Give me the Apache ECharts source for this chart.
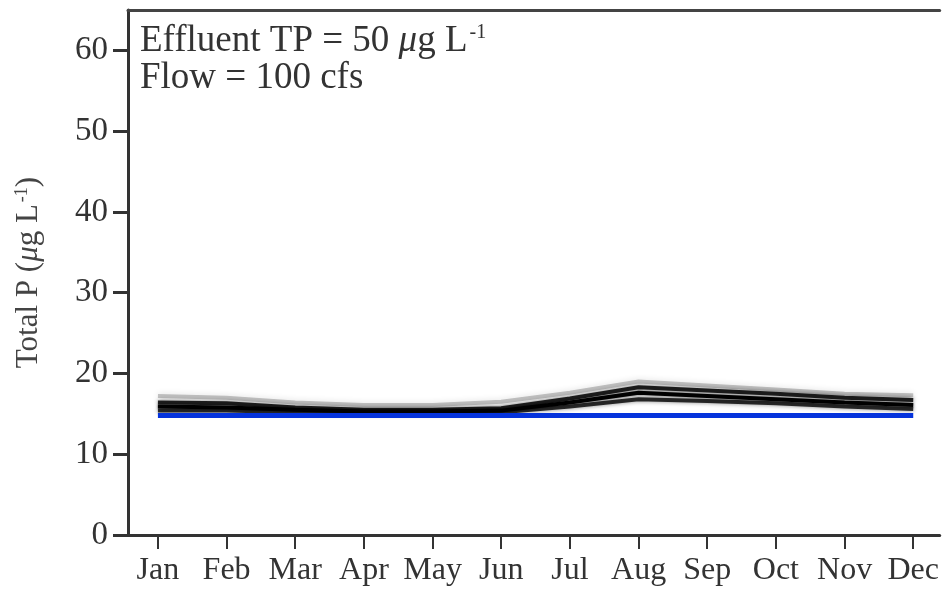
<!DOCTYPE html>
<html lang="en">
<head>
    <meta charset="UTF-8">
    <title>Total P</title>
    <script src="https://cdn.jsdelivr.net/npm/echarts@6.0.0/dist/echarts.min.js"></script>
    <style>
        html, body { margin: 0; padding: 0; background: #fff; }
        #chart { width: 942px; height: 591px; }
    </style>
</head>
<body>
    <div id="chart"></div>
    <script>
        // data
        const months = ["Jan", "Feb", "Mar", "Apr", "May", "Jun", "Jul", "Aug", "Sep", "Oct", "Nov", "Dec"];
        const monthPos = [1, 2, 3, 4, 5, 6, 7, 8, 9, 10, 11, 12];
        const yTicks = [0, 10, 20, 30, 40, 50, 60];

        // ensemble of runs (black / grey band)
        const runUpper = [17.2, 17.0, 16.4, 16.1, 16.1, 16.5, 17.6, 19.0, 18.5, 18.0, 17.5, 17.3];
        const runHigh  = [16.4, 16.3, 15.8, 15.5, 15.5, 15.7, 16.9, 18.3, 17.9, 17.5, 17.0, 16.7];
        const runMid   = [15.9, 15.8, 15.5, 15.3, 15.3, 15.4, 16.4, 17.6, 17.2, 16.8, 16.4, 16.1];
        const runLow   = [15.4, 15.4, 15.2, 15.1, 15.1, 15.2, 15.9, 16.8, 16.6, 16.3, 15.9, 15.6];
        // baseline (blue)
        const baseline = [14.8, 14.8, 14.8, 14.8, 14.8, 14.8, 14.8, 14.8, 14.8, 14.8, 14.8, 14.8];

        const serif = "Liberation Serif";

        function pts(vals) {
            return vals.map((v, i) => [monthPos[i], v]);
        }

        function runLine(name, vals, color, opacity, blur) {
            return {
                name: name,
                type: "line",
                data: pts(vals),
                symbol: "none",
                lineStyle: {
                    color: color, width: 4, opacity: opacity,
                    shadowBlur: blur, shadowColor: "rgba(0,0,0,0.6)"
                },
                silent: true
            };
        }

        const chart = echarts.init(document.getElementById("chart"));

        const option = {
            animation: false,
            grid: { left: 128, right: 0, top: 10, bottom: 56 },
            xAxis: [
                {
                    type: "value",
                    min: 0.5643,
                    max: 12.385,
                    splitLine: { show: false },
                    axisLine: { show: true, lineStyle: { color: "#333", width: 3 } },
                    axisTick: {
                        show: true,
                        customValues: monthPos,
                        length: 14,
                        lineStyle: { color: "#333", width: 2 }
                    },
                    axisLabel: {
                        customValues: monthPos,
                        formatter: (v) => months[Math.round(v) - 1] || "",
                        fontFamily: serif,
                        fontSize: 32,
                        color: "#333",
                        margin: 20
                    }
                },
                {
                    type: "value",
                    position: "top",
                    min: 0.5643,
                    max: 12.385,
                    splitLine: { show: false },
                    axisLine: { show: true, lineStyle: { color: "#444", width: 3 } },
                    axisTick: { show: false },
                    axisLabel: { show: false }
                }
            ],
            yAxis: {
                type: "value",
                min: 0,
                max: 65,
                interval: 10,
                splitLine: { show: false },
                axisLine: { show: true, lineStyle: { color: "#333", width: 3 } },
                axisTick: { show: true, length: 15, lineStyle: { color: "#333", width: 3 } },
                axisLabel: {
                    fontFamily: serif,
                    fontSize: 33,
                    color: "#333",
                    margin: 20,
                    showMaxLabel: false,
                    formatter: (v) => (yTicks.indexOf(v) >= 0 ? String(v) : "")
                },
                name: "Total P ({i|μ}g L{sup|-1})",
                nameLocation: "middle",
                nameGap: 84,
                nameTextStyle: {
                    fontFamily: serif,
                    fontSize: 31,
                    color: "#444",
                    rich: {
                        i: { fontFamily: serif, fontSize: 31, fontStyle: "italic", color: "#444" },
                        sup: { fontFamily: serif, fontSize: 18, color: "#444", verticalAlign: "top", padding: [0, 0, 12, 2] }
                    }
                }
            },
            series: [
                runLine("run upper", runUpper, "#000", 0.22, 6),
                runLine("run high", runHigh, "#000", 0.85, 4),
                runLine("run mid", runMid, "#000", 1, 3),
                runLine("run low", runLow, "#000", 0.8, 4),
                {
                    name: "baseline",
                    type: "line",
                    data: pts(baseline),
                    symbol: "none",
                    lineStyle: { color: "#0533dc", width: 5 },
                    silent: true
                }
            ],
            graphic: [
                {
                    type: "text",
                    left: 140,
                    top: 23,
                    style: {
                        text: "Effluent TP = 50 {i|μ}g L{sup|-1}",
                        font: "37px " + serif,
                        fill: "#333",
                        rich: {
                            i: { fontFamily: serif, fontSize: 37, fontStyle: "italic", fill: "#333" },
                            sup: { fontFamily: serif, fontSize: 20, fill: "#333", verticalAlign: "top", padding: [0, 0, 15, 2] }
                        }
                    }
                },
                {
                    type: "text",
                    left: 140,
                    top: 60,
                    style: {
                        text: "Flow = 100 cfs",
                        font: "37px " + serif,
                        fill: "#333"
                    }
                }
            ]
        };

        chart.setOption(option);
    </script>
</body>
</html>
